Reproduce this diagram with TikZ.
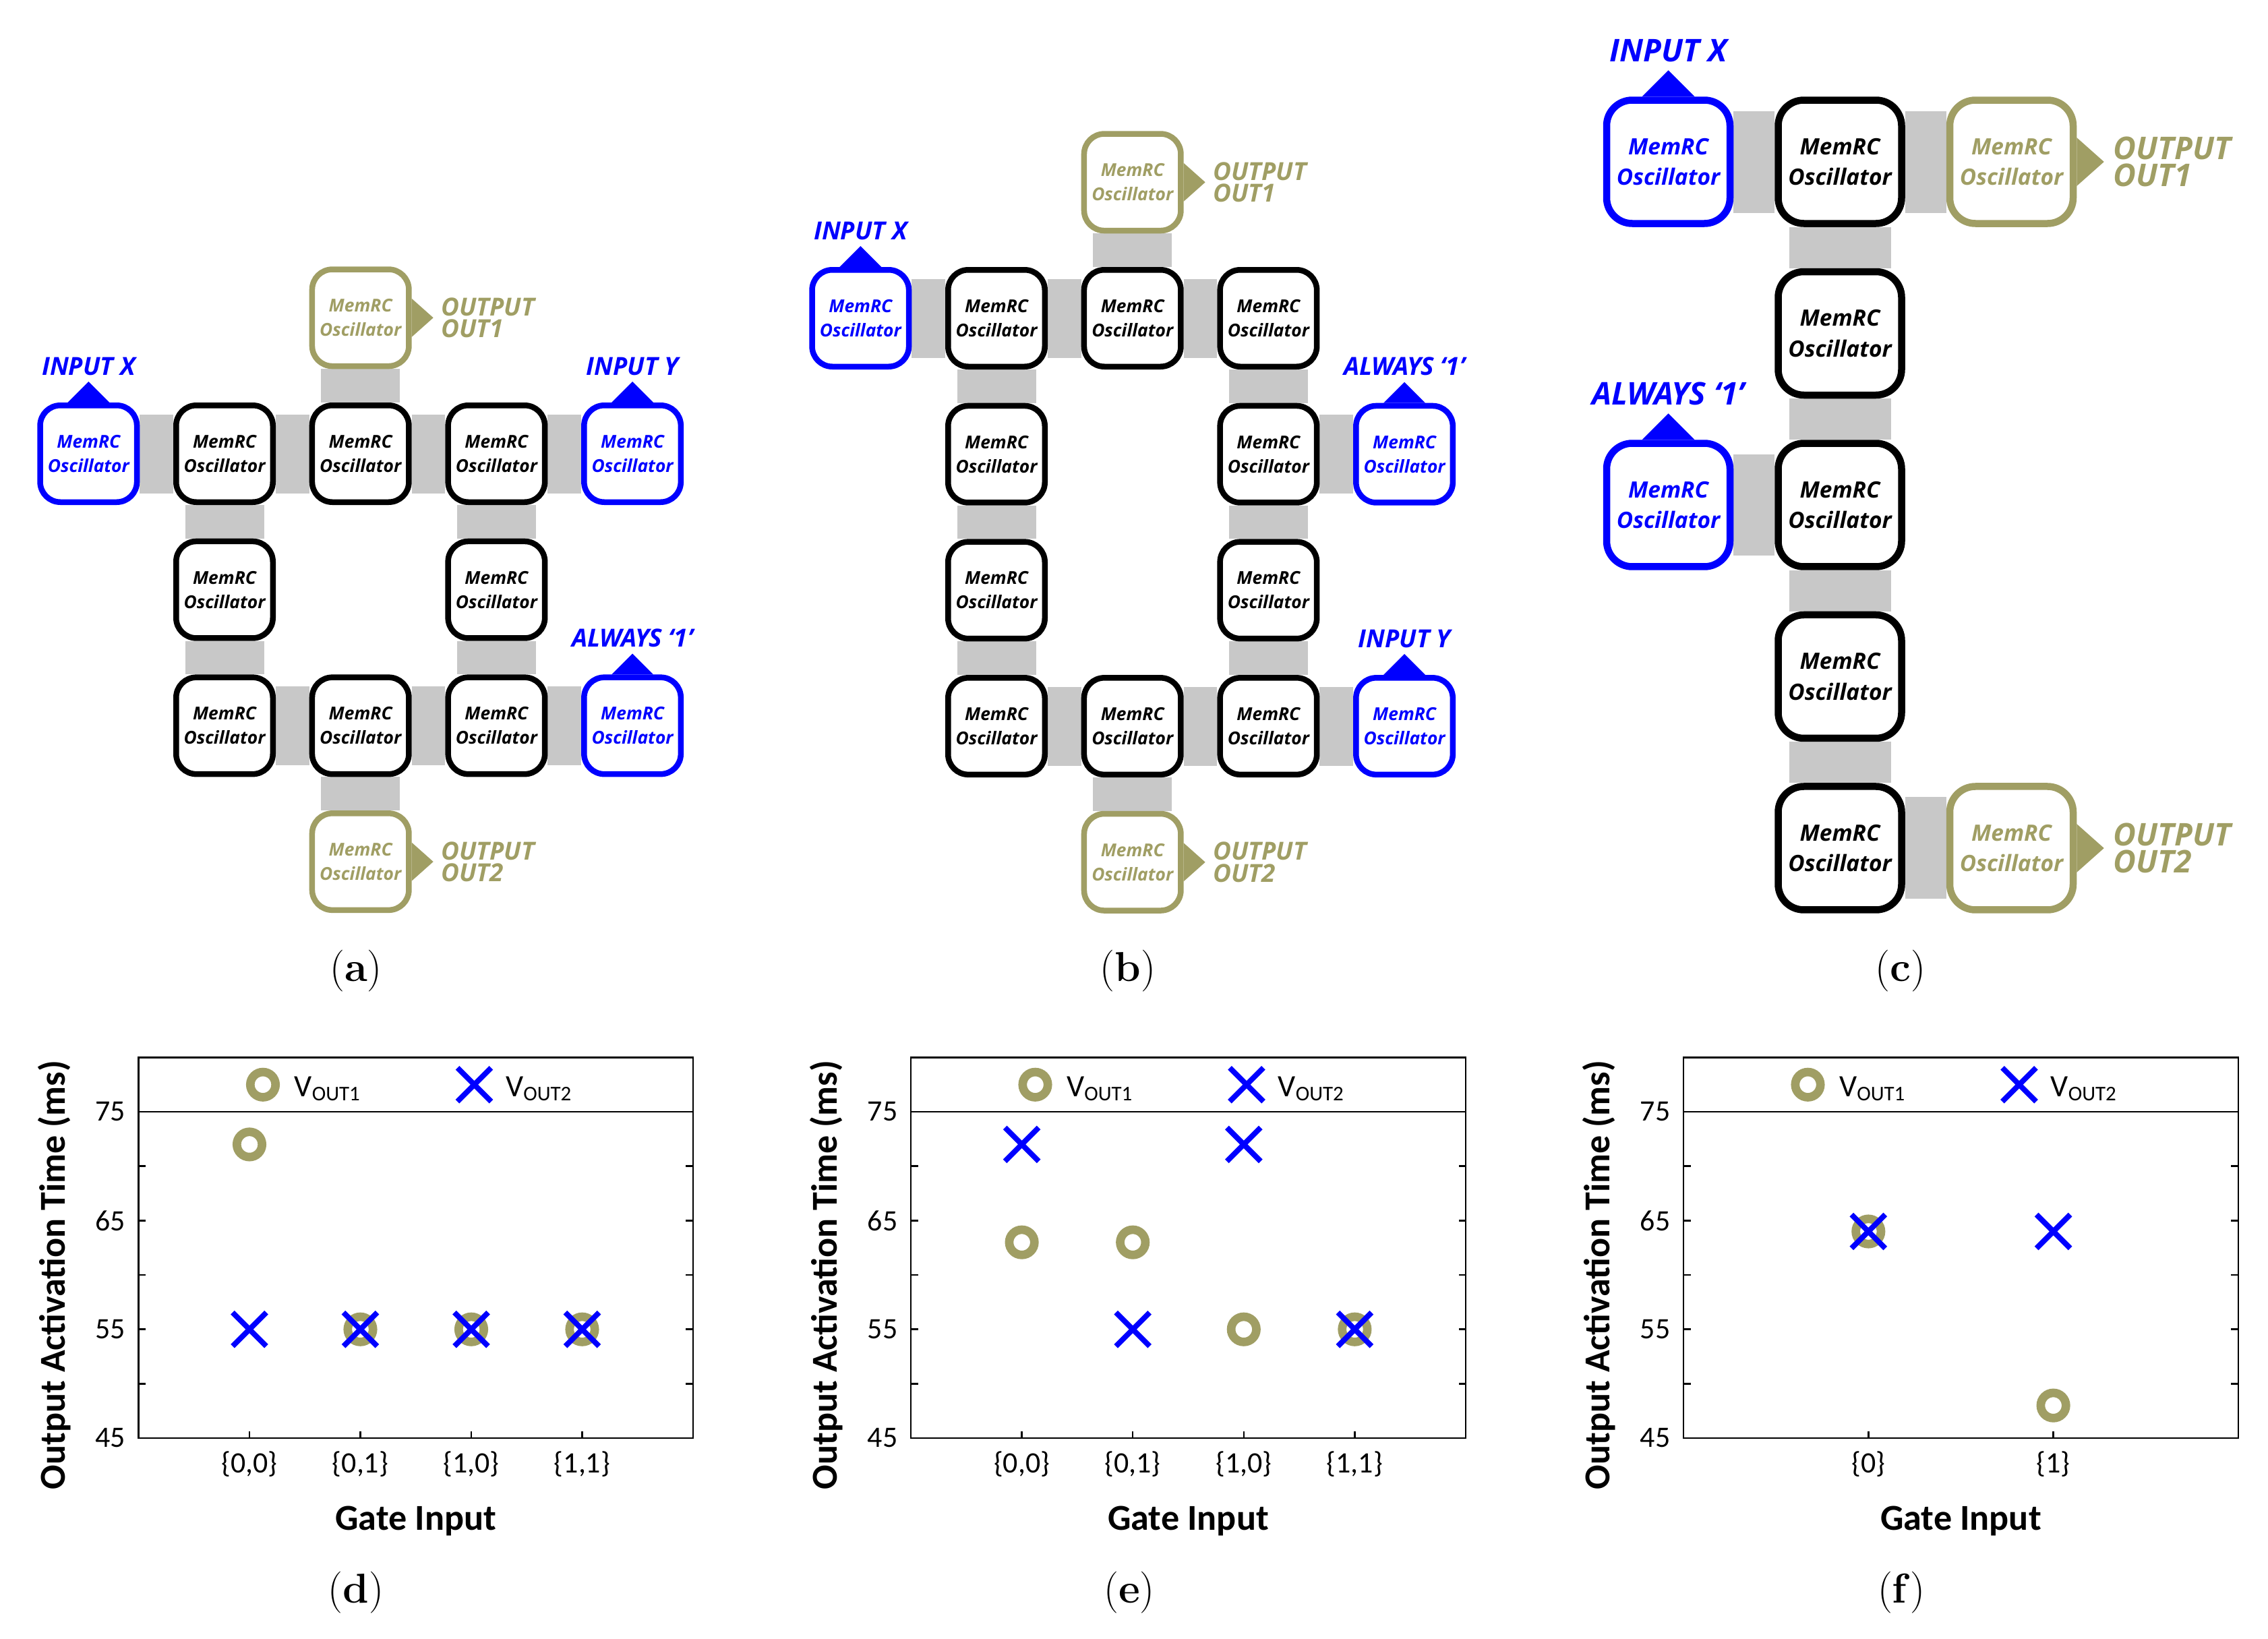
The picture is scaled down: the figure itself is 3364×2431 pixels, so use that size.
\documentclass[tikz,border=0pt]{standalone}
\usepackage{fontspec}
\usepackage{tikz}
\usetikzlibrary{positioning,backgrounds,shapes.misc}

\newfontfamily\openfont{Open Sans}
\newfontfamily\plotfont{Carlito}

\definecolor{olivec}{RGB}{160,158,100}
\definecolor{barc}{RGB}{200,200,200}

\newcommand\memrc{MemRC\\Oscillator}

% sizes for the small panels (a),(b) and the big panel (c)
\newcommand\smallpanel{%
  \def\oscW{14.35mm}\def\oscL{0.85mm}\def\oscR{3mm}%
  \def\oscF{7.5}\def\oscB{10.2}\def\lblF{10.5}\def\lblB{9.2}%
  \def\barW{11.7mm}\def\triH{3.1mm}\def\lblGap{1mm}%
  \def\outH{2.85mm}\def\outL{3.2mm}\def\lblOut{4.3mm}}
\newcommand\bigpanel{%
  \def\oscW{18.3mm}\def\oscL{1.05mm}\def\oscR{3.8mm}%
  \def\oscF{9.5}\def\oscB{12.9}\def\lblF{13.2}\def\lblB{11.4}%
  \def\barW{15.1mm}\def\triH{3.9mm}\def\lblGap{1.26mm}%
  \def\outH{3.6mm}\def\outL{4.05mm}\def\lblOut{5.4mm}}

\tikzset{
  osc/.style={draw=black, text=black, fill=white, line width=\oscL,
    rounded corners=\oscR, minimum width=\oscW, minimum height=\oscW,
    inner sep=0pt, align=center,
    font={\openfont\bfseries\itshape\fontsize{\oscF}{\oscB}\selectfont}},
  inosc/.style={osc, draw=blue, text=blue},
  outosc/.style={osc, draw=olivec, text=olivec},
  gbar/.style={draw=barc, line width=\barW},
  lbl/.style={inner sep=0pt,
    font={\openfont\bfseries\itshape\fontsize{\lblF}{\lblB}\selectfont}},
  sublbl/.style={inner sep=0pt, font={\fontsize{17.6}{20}\selectfont}},
  plotline/.style={line width=0.25mm},
  ynum/.style={anchor=east, inner sep=0pt,
    font={\plotfont\fontsize{12.5}{15}\selectfont}},
  xnum/.style={anchor=north, inner sep=0pt,
    font={\plotfont\fontsize{12.5}{15}\selectfont}},
  axlabel/.style={anchor=base, inner sep=0pt,
    font={\plotfont\bfseries\fontsize{15.4}{18}\selectfont}},
  legtxt/.style={anchor=base west, inner sep=0pt,
    font={\plotfont\fontsize{13.1}{15}\selectfont}},
  omark/.style={circle, draw=olivec, line width=1.27mm, minimum size=3.74mm, inner sep=0pt},
  xmark/.style={cross out, draw=blue, line width=0.8mm, minimum size=4.2mm, inner sep=0pt}
}

\newcommand\vsub[1]{\raisebox{-0.6mm}{\fontsize{8.8}{10}\selectfont #1}}

% frame, ticks, labels and legend of one plot: #1 prefix, #2 right end, #3 categories
\newcommand\gateaxes[3]{%
  \draw[plotline] (0,45) rectangle (#2,80);
  \draw[plotline] (0,75) -- (#2,75);
  \foreach \v in {50,55,...,70} {
    \draw[plotline] (0,\v) -- ++(1.05mm,0);
    \draw[plotline] (#2,\v) -- ++(-1.05mm,0);
  }
  \foreach \v in {45,55,65,75}
    \node[ynum] (#1-y\v) at ([xshift=-1.9mm]0,\v) {\v};
  \foreach \i/\l in {#3} {
    \draw[plotline] (\i,45) -- ++(0,1mm);
    \node[xnum] (#1-t\i) at ([yshift=-1.9mm]\i,45) {\{\l\}};
  }
  \node[axlabel] (#1-xl) at ([yshift=-13.6mm]#2/2,45) {Gate Input};
  \node[axlabel, rotate=90] (#1-yl) at ([xshift=-10.95mm]0,60) {Output Activation Time (ms)};
  \node[omark] (#1-lo) at ([xshift=18.45mm,yshift=-4.04mm]0,80) {};
  \node[xmark] (#1-lx) at ([xshift=49.8mm,yshift=-4.04mm]0,80) {};
  \node[legtxt] (#1-lot) at ([xshift=4.6mm,yshift=-1.8mm]#1-lo.center) {V\vsub{OUT1}};
  \node[legtxt] (#1-lxt) at ([xshift=4.6mm,yshift=-1.8mm]#1-lx.center) {V\vsub{OUT2}};
}

\begin{document}
\begin{tikzpicture}[x=0.1mm, y=-0.1mm, on grid]
\path[use as bounding box] (0,0) rectangle (3364,2431);

% (a) ring with two inputs on the right
\begin{scope}[node distance=20.17mm]
\smallpanel
\node[osc] (a12) at (333,673) {\memrc};
\node[osc, right=of a12] (a13) {\memrc};
\node[osc, right=of a13] (a14) {\memrc};
\node[inosc, left=of a12] (ax) {\memrc};
\node[inosc, right=of a14] (ay) {\memrc};
\node[outosc, above=of a13] (ao1) {\memrc};
\node[osc, below=of a12] (a22) {\memrc};
\node[osc, below=of a14] (a24) {\memrc};
\node[osc, below=of a22] (a32) {\memrc};
\node[osc, below=of a24] (a34) {\memrc};
\node[osc, right=of a32] (a33) {\memrc};
\node[inosc, right=of a34] (a1) {\memrc};
\node[outosc, below=of a33] (ao2) {\memrc};
\begin{scope}[on background layer]
\path[gbar] (ax) edge (a12) (a12) edge (a13) (a13) edge (a14) (a14) edge (ay)
  (a13) edge (ao1) (a12) edge (a22) (a22) edge (a32) (a14) edge (a24)
  (a24) edge (a34) (a32) edge (a33) (a33) edge (a34) (a34) edge (a1)
  (a33) edge (ao2);
\end{scope}
\foreach \n/\txt in {ax/INPUT X, ay/INPUT Y, a1/{ALWAYS ‘1’}} {
  \fill[blue] ([xshift=-\triH]\n.north) -- ([yshift=\triH]\n.north) -- ([xshift=\triH]\n.north) -- cycle;
  \node[lbl, text=blue, anchor=base] (\n-l) at ([yshift=\triH+\lblGap]\n.north) {\txt};
}
\foreach \n/\txt in {ao1/OUT1, ao2/OUT2} {
  \fill[olivec] ([yshift=\outH]\n.east) -- ([xshift=\outL]\n.east) -- ([yshift=-\outH]\n.east) -- cycle;
  \node[lbl, text=olivec, anchor=west, align=left] (\n-l) at ([xshift=\lblOut]\n.east) {OUTPUT\\\txt};
}
\node[sublbl] (sub-a) at (528,1440) {(\textbf{a})};
\end{scope}

% (b) taller ring
\begin{scope}[node distance=20.17mm]
\smallpanel
\node[osc] (b12) at (1478,472) {\memrc};
\node[osc, right=of b12] (b13) {\memrc};
\node[osc, right=of b13] (b14) {\memrc};
\node[inosc, left=of b12] (bx) {\memrc};
\node[outosc, above=of b13] (bo1) {\memrc};
\node[osc, below=of b12] (b22) {\memrc};
\node[osc, below=of b22] (b32) {\memrc};
\node[osc, below=of b32] (b42) {\memrc};
\node[osc, below=of b14] (b24) {\memrc};
\node[osc, below=of b24] (b34) {\memrc};
\node[osc, below=of b34] (b44) {\memrc};
\node[osc, right=of b42] (b43) {\memrc};
\node[inosc, right=of b24] (b1) {\memrc};
\node[inosc, right=of b44] (by) {\memrc};
\node[outosc, below=of b43] (bo2) {\memrc};
\begin{scope}[on background layer]
\path[gbar] (bx) edge (b12) (b12) edge (b13) (b13) edge (b14) (b13) edge (bo1)
  (b12) edge (b22) (b22) edge (b32) (b32) edge (b42) (b14) edge (b24)
  (b24) edge (b34) (b34) edge (b44) (b42) edge (b43) (b43) edge (b44)
  (b24) edge (b1) (b44) edge (by) (b43) edge (bo2);
\end{scope}
\foreach \n/\txt in {bx/INPUT X, b1/{ALWAYS ‘1’}, by/INPUT Y} {
  \fill[blue] ([xshift=-\triH]\n.north) -- ([yshift=\triH]\n.north) -- ([xshift=\triH]\n.north) -- cycle;
  \node[lbl, text=blue, anchor=base] (\n-l) at ([yshift=\triH+\lblGap]\n.north) {\txt};
}
\foreach \n/\txt in {bo1/OUT1, bo2/OUT2} {
  \fill[olivec] ([yshift=\outH]\n.east) -- ([xshift=\outL]\n.east) -- ([yshift=-\outH]\n.east) -- cycle;
  \node[lbl, text=olivec, anchor=west, align=left] (\n-l) at ([xshift=\lblOut]\n.east) {OUTPUT\\\txt};
}
\node[sublbl] (sub-b) at (1673,1440) {(\textbf{b})};
\end{scope}

% (c) single column
\begin{scope}[node distance=25.45mm]
\bigpanel
\node[osc] (c1) at (2729,240) {\memrc};
\node[osc, below=of c1] (c2) {\memrc};
\node[osc, below=of c2] (c3) {\memrc};
\node[osc, below=of c3] (c4) {\memrc};
\node[osc, below=of c4] (c5) {\memrc};
\node[inosc, left=of c1] (cx) {\memrc};
\node[inosc, left=of c3] (c1in) {\memrc};
\node[outosc, right=of c1] (co1) {\memrc};
\node[outosc, right=of c5] (co2) {\memrc};
\begin{scope}[on background layer]
\path[gbar] (cx) edge (c1) (c1) edge (co1) (c1) edge (c2) (c2) edge (c3)
  (c3) edge (c4) (c4) edge (c5) (c1in) edge (c3) (c5) edge (co2);
\end{scope}
\foreach \n/\txt in {cx/INPUT X, c1in/{ALWAYS ‘1’}} {
  \fill[blue] ([xshift=-\triH]\n.north) -- ([yshift=\triH]\n.north) -- ([xshift=\triH]\n.north) -- cycle;
  \node[lbl, text=blue, anchor=base] (\n-l) at ([yshift=\triH+\lblGap]\n.north) {\txt};
}
\foreach \n/\txt in {co1/OUT1, co2/OUT2} {
  \fill[olivec] ([yshift=\outH]\n.east) -- ([xshift=\outL]\n.east) -- ([yshift=-\outH]\n.east) -- cycle;
  \node[lbl, text=olivec, anchor=west, align=left] (\n-l) at ([xshift=\lblOut]\n.east) {OUTPUT\\\txt};
}
\node[sublbl] (sub-c) at (2819,1440) {(\textbf{c})};
\end{scope}

% (d)
\begin{scope}[shift={(205.5,2859)}, x=16.45mm, y=1.6133mm]
\gateaxes{d}{5}{1/{0,0},2/{0,1},3/{1,0},4/{1,1}}
\foreach \i/\v in {1/72,2/55,3/55,4/55} \node[omark] (d-o\i) at (\i,\v) {};
\foreach \i/\v in {1/55,2/55,3/55,4/55} \node[xmark] (d-c\i) at (\i,\v) {};
\end{scope}
\node[sublbl] (sub-d) at (528,2362) {(\textbf{d})};

% (e)
\begin{scope}[shift={(1351,2859)}, x=16.46mm, y=1.6133mm]
\gateaxes{e}{5}{1/{0,0},2/{0,1},3/{1,0},4/{1,1}}
\foreach \i/\v in {1/63,2/63,3/55,4/55} \node[omark] (e-o\i) at (\i,\v) {};
\foreach \i/\v in {1/72,2/55,3/72,4/55} \node[xmark] (e-c\i) at (\i,\v) {};
\end{scope}
\node[sublbl] (sub-e) at (1675,2362) {(\textbf{e})};

% (f)
\begin{scope}[shift={(2497,2859)}, x=27.43mm, y=1.6133mm]
\gateaxes{f}{3}{1/0,2/1}
\foreach \i/\v in {1/64,2/48} \node[omark] (f-o\i) at (\i,\v) {};
\foreach \i/\v in {1/64,2/64} \node[xmark] (f-c\i) at (\i,\v) {};
\end{scope}
\node[sublbl] (sub-f) at (2820,2362) {(\textbf{f})};

\end{tikzpicture}
\end{document}
